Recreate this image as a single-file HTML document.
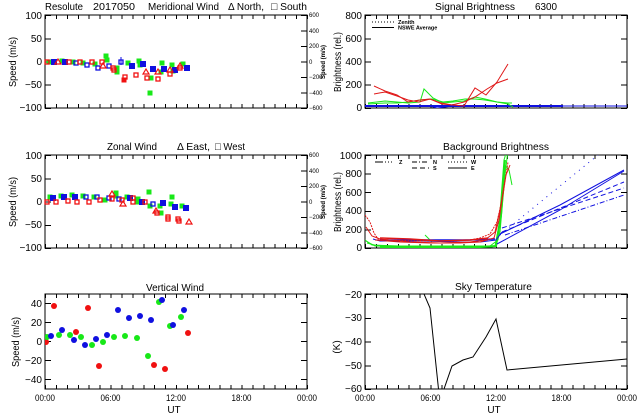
<!DOCTYPE html>
<html><head><meta charset="utf-8"><style>
html,body{margin:0;padding:0;background:#fff;}
svg{display:block;}
text{font-family:"Liberation Sans",sans-serif;fill:#000;}
</style></head><body>
<svg width="640" height="420" viewBox="0 0 640 420" xmlns="http://www.w3.org/2000/svg">
<defs>
<rect id="s" x="-2.5" y="-2.5" width="5" height="5"/>
<rect id="o" x="-2" y="-2" width="4" height="4" fill="none" stroke-width="1.3"/>
<path id="t" d="M0,-3 L3,2 L-3,2 Z" fill="none" stroke-width="1.2"/>
<circle id="c" r="3"/>
<clipPath id="cTR"><rect x="365" y="15" width="262" height="93"/></clipPath>
<clipPath id="cMR"><rect x="365" y="155" width="262" height="93"/></clipPath>
<clipPath id="cBL"><rect x="45" y="294" width="262" height="95"/></clipPath>
<clipPath id="cBR"><rect x="365" y="294" width="262" height="95"/></clipPath>
</defs>
<rect width="640" height="420" fill="#fff"/>

<!-- ===== Boxes & ticks ===== -->
<g fill="none" stroke="#000" shape-rendering="crispEdges">
<rect x="45" y="15" width="262" height="93" stroke-width="1"/>
<rect x="365" y="15" width="262" height="93" stroke-width="1"/>
<rect x="45" y="155" width="262" height="93" stroke-width="1"/>
<rect x="365" y="155" width="262" height="93" stroke-width="1"/>
<rect x="45" y="294" width="262" height="95" stroke-width="1"/>
<rect x="365" y="294" width="262" height="95" stroke-width="1"/>

<!-- x ticks -->
<g stroke-width="4" stroke-dasharray="1 9.9167">
<line x1="45" x2="308" y1="106" y2="106"/><line x1="45" x2="308" y1="17" y2="17"/>
<line x1="365" x2="628" y1="106" y2="106"/><line x1="365" x2="628" y1="17" y2="17"/>
<line x1="45" x2="308" y1="246" y2="246"/><line x1="45" x2="308" y1="157" y2="157"/>
<line x1="365" x2="628" y1="246" y2="246"/><line x1="365" x2="628" y1="157" y2="157"/>
<line x1="45" x2="308" y1="387" y2="387"/><line x1="45" x2="308" y1="296" y2="296"/>
<line x1="365" x2="628" y1="387" y2="387"/><line x1="365" x2="628" y1="296" y2="296"/>
</g>
<!-- y ticks -->
<g stroke-width="6">
<line x1="48" x2="48" y1="15" y2="109" stroke-dasharray="1 22.25"/>
<line x1="304" x2="304" y1="15" y2="109" stroke-dasharray="1 14.5"/>
<line x1="48" x2="48" y1="155" y2="249" stroke-dasharray="1 22.25"/>
<line x1="304" x2="304" y1="155" y2="249" stroke-dasharray="1 14.5"/>
<line x1="368" x2="368" y1="15" y2="109" stroke-dasharray="1 22.25"/>
<line x1="624" x2="624" y1="15" y2="109" stroke-dasharray="1 22.25"/>
<line x1="368" x2="368" y1="155" y2="249" stroke-dasharray="1 17.6"/>
<line x1="624" x2="624" y1="155" y2="249" stroke-dasharray="1 17.6"/>
<line x1="48" x2="48" y1="303" y2="381" stroke-dasharray="1 18"/>
<line x1="304" x2="304" y1="303" y2="381" stroke-dasharray="1 18"/>
<line x1="368" x2="368" y1="294" y2="390" stroke-dasharray="1 22.75"/>
<line x1="624" x2="624" y1="294" y2="390" stroke-dasharray="1 22.75"/>
</g>
</g>

<!-- ===== Titles ===== -->
<g font-size="10.5">
<text x="45" y="10" textLength="38" lengthAdjust="spacingAndGlyphs">Resolute</text>
<text x="93" y="10" textLength="42" lengthAdjust="spacingAndGlyphs">2017050</text>
<text x="148" y="10" textLength="71" lengthAdjust="spacingAndGlyphs">Meridional Wind</text>
<text x="228" y="10" textLength="36" lengthAdjust="spacingAndGlyphs">Δ North,</text>
<text x="271" y="10" textLength="36" lengthAdjust="spacingAndGlyphs">□ South</text>
<text x="435" y="10" textLength="80" lengthAdjust="spacingAndGlyphs">Signal Brightness</text>
<text x="535" y="10" textLength="22" lengthAdjust="spacingAndGlyphs">6300</text>
<text x="107" y="150" textLength="50" lengthAdjust="spacingAndGlyphs">Zonal Wind</text>
<text x="177" y="150" textLength="33" lengthAdjust="spacingAndGlyphs">Δ East,</text>
<text x="215" y="150" textLength="30" lengthAdjust="spacingAndGlyphs">□ West</text>
<text x="443" y="150" textLength="106" lengthAdjust="spacingAndGlyphs">Background Brightness</text>
<text x="146" y="291" textLength="58" lengthAdjust="spacingAndGlyphs">Vertical Wind</text>
<text x="455" y="290" textLength="77" lengthAdjust="spacingAndGlyphs">Sky Temperature</text>
</g>

<!-- ===== Y tick labels ===== -->
<g font-size="10" text-anchor="end">
<text x="42" y="19">100</text><text x="42" y="42">50</text><text x="42" y="65">0</text><text x="42" y="88">−50</text><text x="42" y="111">−100</text>
<text x="42" y="159">100</text><text x="42" y="182">50</text><text x="42" y="205">0</text><text x="42" y="228">−50</text><text x="42" y="251">−100</text>
<text x="42" y="307">40</text><text x="42" y="326">20</text><text x="42" y="345">0</text><text x="42" y="364">−20</text><text x="42" y="383">−40</text>
<text x="362" y="19">800</text><text x="362" y="42">600</text><text x="362" y="65">400</text><text x="362" y="88">200</text><text x="362" y="111">0</text>
<text x="362" y="159">1000</text><text x="362" y="177">800</text><text x="362" y="196">600</text><text x="362" y="214">400</text><text x="362" y="233">200</text><text x="362" y="251">0</text>
<text x="362" y="298">−20</text><text x="362" y="321">−30</text><text x="362" y="345">−40</text><text x="362" y="369">−50</text><text x="362" y="392">−60</text>
</g>
<!-- right axis tiny labels -->
<g font-size="6">
<text x="309" y="17">600</text><text x="309" y="33">400</text><text x="309" y="48">200</text><text x="309" y="64">0</text><text x="309" y="79">−200</text><text x="309" y="95">−400</text><text x="309" y="110">−600</text>
<text x="309" y="157">600</text><text x="309" y="173">400</text><text x="309" y="188">200</text><text x="309" y="204">0</text><text x="309" y="219">−200</text><text x="309" y="235">−400</text><text x="309" y="250">−600</text>
<text transform="translate(325,62) rotate(-90)" text-anchor="middle" font-weight="bold">Speed (m/s)</text>
<text transform="translate(325,202) rotate(-90)" text-anchor="middle" font-weight="bold">Speed (m/s)</text>
</g>
<!-- y axis titles -->
<g font-size="10" text-anchor="middle">
<text transform="translate(16,62) rotate(-90)" textLength="50" lengthAdjust="spacingAndGlyphs">Speed (m/s)</text>
<text transform="translate(16,202) rotate(-90)" textLength="50" lengthAdjust="spacingAndGlyphs">Speed (m/s)</text>
<text transform="translate(19,342) rotate(-90)" textLength="50" lengthAdjust="spacingAndGlyphs">Speed (m/s)</text>
<text transform="translate(341,62) rotate(-90)" textLength="60" lengthAdjust="spacingAndGlyphs">Brightness (rel.)</text>
<text transform="translate(341,202) rotate(-90)" textLength="60" lengthAdjust="spacingAndGlyphs">Brightness (rel.)</text>
<text transform="translate(340,347) rotate(-90)">(K)</text>
</g>
<!-- x labels -->
<g font-size="9" text-anchor="middle">
<text x="45" y="401" textLength="20" lengthAdjust="spacingAndGlyphs">00:00</text>
<text x="110.5" y="401" textLength="20" lengthAdjust="spacingAndGlyphs">06:00</text>
<text x="176" y="401" textLength="20" lengthAdjust="spacingAndGlyphs">12:00</text>
<text x="241.5" y="401" textLength="20" lengthAdjust="spacingAndGlyphs">18:00</text>
<text x="307" y="401" textLength="20" lengthAdjust="spacingAndGlyphs">00:00</text>
<text x="365" y="401" textLength="20" lengthAdjust="spacingAndGlyphs">00:00</text>
<text x="430.5" y="401" textLength="20" lengthAdjust="spacingAndGlyphs">06:00</text>
<text x="496" y="401" textLength="20" lengthAdjust="spacingAndGlyphs">12:00</text>
<text x="561.5" y="401" textLength="20" lengthAdjust="spacingAndGlyphs">18:00</text>
<text x="627" y="401" textLength="20" lengthAdjust="spacingAndGlyphs">00:00</text>
<text x="174" y="413" font-size="10">UT</text>
<text x="494" y="413" font-size="10">UT</text>
</g>

<!-- ===== TL Meridional ===== -->
<g fill="#18e818">
<use href="#s" x="49" y="62"/><use href="#s" x="62" y="61"/><use href="#s" x="73" y="62"/><use href="#s" x="83" y="63"/><use href="#s" x="95" y="64"/><use href="#s" x="106" y="56"/><use href="#s" x="107" y="60"/><use href="#s" x="117" y="68"/><use href="#s" x="117" y="72"/><use href="#s" x="128" y="63"/><use href="#s" x="139" y="61"/><use href="#s" x="140" y="65"/><use href="#s" x="150" y="93"/><use href="#s" x="151" y="78"/><use href="#s" x="162" y="63"/><use href="#s" x="161" y="72"/><use href="#s" x="172" y="65"/><use href="#s" x="173" y="71"/><use href="#s" x="183" y="64"/>
</g>
<g fill="#1010e0" stroke="#1010e0">
<use href="#s" x="54" y="62"/><use href="#s" x="65" y="62"/><use href="#o" x="76" y="63"/><use href="#o" x="87" y="65"/><use href="#o" x="98" y="68"/><use href="#o" x="109" y="66"/><use href="#o" x="121" y="62"/><line x1="121" x2="121" y1="57" y2="65"/><use href="#s" x="132" y="66"/><use href="#s" x="143" y="64"/><use href="#s" x="153" y="69"/><use href="#s" x="164" y="69"/><use href="#s" x="175" y="70"/><use href="#s" x="187" y="68"/>
</g>
<g stroke="#f01010" fill="none">
<use href="#o" x="47" y="62"/><use href="#o" x="69" y="62"/><use href="#o" x="80" y="62"/><use href="#o" x="92" y="62"/><use href="#o" x="102" y="62"/><use href="#o" x="113" y="68"/><use href="#o" x="114" y="70"/><use href="#o" x="125" y="77"/><use href="#o" x="136" y="75"/><use href="#o" x="147" y="78"/><use href="#o" x="158" y="79"/><use href="#o" x="170" y="74"/><use href="#o" x="180" y="68"/>
<use href="#t" x="58" y="62"/><use href="#t" x="103" y="66"/><use href="#t" x="146" y="72"/><use href="#t" x="158" y="72"/><use href="#t" x="170" y="70"/><use href="#t" x="180" y="66"/>
</g>
<use href="#s" x="124" y="80" fill="#f01010"/>

<!-- ===== ML Zonal ===== -->
<g fill="#18e818">
<use href="#s" x="50" y="197"/><use href="#s" x="61" y="196"/><use href="#s" x="72" y="195"/><use href="#s" x="83" y="196"/><use href="#s" x="94" y="197"/><use href="#s" x="105" y="200"/><use href="#s" x="116" y="193"/><use href="#s" x="116" y="196"/><use href="#s" x="127" y="197"/><use href="#s" x="138" y="199"/><use href="#s" x="138" y="202"/><use href="#s" x="149" y="192"/><use href="#s" x="150" y="206"/><use href="#s" x="160" y="206"/><use href="#s" x="161" y="213"/><use href="#s" x="172" y="197"/><use href="#s" x="171" y="204"/><use href="#s" x="182" y="206"/>
</g>
<g fill="#1010e0" stroke="#1010e0">
<use href="#s" x="53" y="198"/><use href="#s" x="64" y="197"/><use href="#s" x="75" y="197"/><use href="#o" x="86" y="197"/><use href="#o" x="97" y="197"/><use href="#o" x="109" y="198"/><use href="#o" x="119" y="199"/><use href="#s" x="130" y="198"/><use href="#s" x="142" y="202"/><use href="#o" x="153" y="204"/><use href="#s" x="163" y="203"/><use href="#s" x="175" y="207"/><use href="#s" x="186" y="208"/>
</g>
<g stroke="#f01010" fill="none">
<use href="#o" x="47" y="202"/><use href="#o" x="56" y="202"/><use href="#o" x="68" y="201"/><use href="#o" x="77" y="202"/><use href="#o" x="89" y="202"/><use href="#o" x="100" y="200"/><use href="#o" x="112" y="199"/><use href="#o" x="122" y="200"/><use href="#o" x="133" y="198"/><use href="#o" x="133" y="202"/><use href="#o" x="145" y="202"/><use href="#o" x="157" y="213"/><use href="#o" x="168" y="217"/><use href="#o" x="168" y="219"/><use href="#o" x="178" y="219"/><use href="#o" x="179" y="221"/>
<use href="#t" x="112" y="194"/><use href="#t" x="123" y="204"/><use href="#t" x="156" y="211"/><use href="#t" x="189" y="222"/>
</g>

<!-- ===== BL Vertical ===== -->
<g clip-path="url(#cBL)">
<g fill="#f01010">
<use href="#c" x="46" y="342"/><use href="#c" x="54" y="306"/><use href="#c" x="76" y="332"/><use href="#c" x="88" y="308"/><use href="#c" x="99" y="366"/><use href="#c" x="143" y="291"/><use href="#c" x="154" y="365"/><use href="#c" x="165" y="369"/><use href="#c" x="188" y="333"/>
</g>
<g fill="#18e818">
<use href="#c" x="47" y="337"/><use href="#c" x="59" y="335"/><use href="#c" x="70" y="335"/><use href="#c" x="81" y="337"/><use href="#c" x="92" y="345"/><use href="#c" x="103" y="342"/><use href="#c" x="114" y="337"/><use href="#c" x="125" y="336"/><use href="#c" x="137" y="338"/><use href="#c" x="148" y="356"/><use href="#c" x="159" y="302"/><use href="#c" x="170" y="326"/><use href="#c" x="181" y="317"/>
</g>
<g fill="#1010e0">
<use href="#c" x="51" y="336"/><use href="#c" x="62" y="330"/><use href="#c" x="74" y="340"/><use href="#c" x="85" y="345"/><use href="#c" x="96" y="339"/><use href="#c" x="107" y="335"/><use href="#c" x="118" y="310"/><use href="#c" x="129" y="318"/><use href="#c" x="140" y="316"/><use href="#c" x="151" y="320"/><use href="#c" x="162" y="300"/><use href="#c" x="173" y="325"/><use href="#c" x="184" y="310"/>
</g>
</g>

<!-- ===== TR Signal ===== -->
<g clip-path="url(#cTR)" fill="none" stroke-width="1">
<polyline stroke="#1010e0" stroke-width="2" points="365,106 563,106"/>
<polyline stroke="#1010e0" points="563,106 627,106"/>
<polyline stroke="#1010e0" points="430,106 437,108 445,107 452,106"/>
<polyline stroke="#18e818" points="368,103 385,101 397,102 408,103 420,102 424,89 433,98 443,103 453,102 464,101 475,97 485,99 497,102 508,104 513,107"/>
<polyline stroke="#18e818" points="368,104 385,103 397,103 408,102 420,100 432,99 443,102 453,101 465,99 475,99 485,100 497,102 508,103 512,103"/>
<polyline stroke="#e01818" points="374,86 385,91 397,95 408,102 420,100 430,99 442,104 453,105 464,106 475,88 486,95 497,82 508,64"/>
<polyline stroke="#e01818" points="374,94 385,92 397,96 408,100 419,102 430,99 441,103 452,105 464,102 475,97 487,89 497,83 508,79"/>
</g>
<g stroke="#000" stroke-width="1">
<line x1="372" x2="394" y1="22" y2="22" stroke-dasharray="1 2"/>
<line x1="372" x2="394" y1="27.5" y2="27.5"/>
</g>
<g font-size="5.5" font-weight="bold">
<text x="398" y="24">Zenith</text>
<text x="398" y="29.5">NSWE Average</text>
</g>

<!-- ===== MR Background ===== -->
<g clip-path="url(#cMR)" fill="none" stroke-width="1">
<polyline stroke="#18e818" points="367,243 378,246 420,247 470,247 492,247 496,245 500,232 505,175 508,150"/>
<polyline stroke="#18e818" points="365,240 372,245 400,246 450,246 495,246 499,225 504,160 507,150"/>
<polyline stroke="#18e818" points="366,241 375,246 430,247 490,246 498,240 502,200 505,165 509,170 512,185"/>
<polyline stroke="#18e818" stroke-width="2" points="380,247 480,247 496,246 501,215 505,160"/>
<polyline stroke="#18e818" points="425,235 432,242"/>
<polyline stroke="#1010e0" points="373,239 380,241 420,241 460,242 480,242 496,240 502,232"/>
<polyline stroke="#1010e0" stroke-width="1.5" points="380,240 420,240 470,240 495,239"/>
<polyline stroke="#1010e0" points="500,234 560,205 624,170"/>
<polyline stroke="#1010e0" points="497,244 560,210 624,171"/>
<polyline stroke="#1010e0" stroke-dasharray="5 3" points="502,228 624,188"/>
<polyline stroke="#1010e0" stroke-dasharray="5 3" points="502,232 624,182"/>
<polyline stroke="#1010e0" stroke-dasharray="5 2 1 2" points="505,235 624,195"/>
<polyline stroke="#1010e0" stroke-dasharray="1 5" points="500,235 598,155"/>
<polyline stroke="#e01818" stroke-dasharray="2 1" points="365,215 370,222 374,233 378,239 390,240 420,241 450,241 470,240 480,238 490,234 497,222 503,195 508,162"/>
<polyline stroke="#e01818" points="366,227 372,236 380,239 410,242 440,243 470,242 485,240 495,232 500,210 506,175 510,165"/>
<polyline stroke="#e01818" points="375,240 400,242 430,243 460,243 480,242 494,238 499,220 505,180"/>
<polyline stroke="#e01818" stroke-width="1.5" points="380,238 410,239 440,241 470,240 488,238"/>
</g>
<g stroke="#000" stroke-width="1" fill="none">
<line x1="375" x2="394" y1="162" y2="162" stroke-dasharray="8 2 1 2 1 2 1 2"/>
<line x1="412" x2="429" y1="162" y2="162" stroke-dasharray="5 2 1 2"/>
<line x1="412" x2="429" y1="168" y2="168" stroke-dasharray="5 3"/>
<line x1="448" x2="467" y1="162" y2="162" stroke-dasharray="1 2"/>
<line x1="448" x2="467" y1="168" y2="168"/>
</g>
<g font-size="5.5" font-weight="bold">
<text x="399" y="164">Z</text>
<text x="433" y="164">N</text>
<text x="433" y="170">S</text>
<text x="471" y="164">W</text>
<text x="471" y="170">E</text>
</g>

<!-- ===== BR Sky temperature ===== -->
<g clip-path="url(#cBR)">
<polyline fill="none" stroke="#000" stroke-width="1" points="422,285 424,294 430,308 438.5,389 441,400 444,389 452,366 463,360 473,357 486,337 496,319 507,370 627,359"/>
</g>
</svg>
</body></html>
